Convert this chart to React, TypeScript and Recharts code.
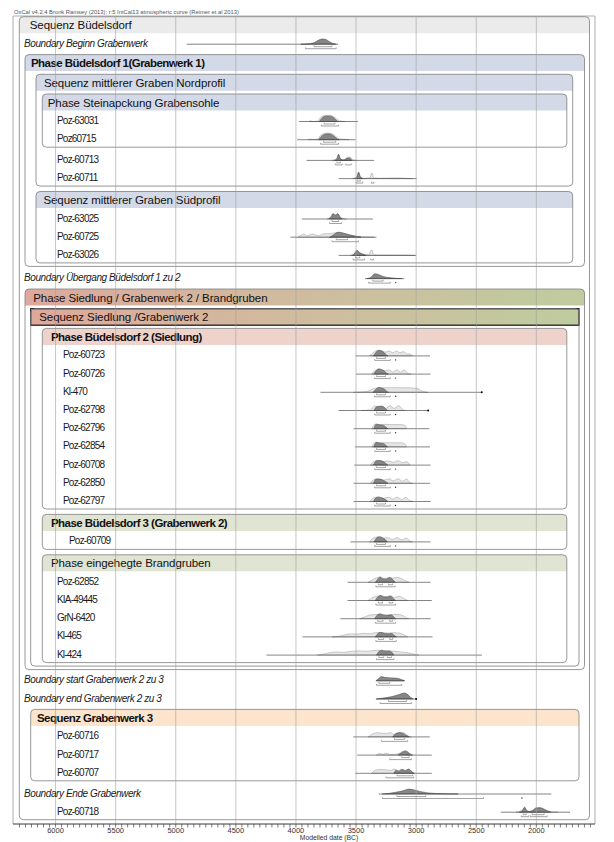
import React from "react";
import {
  ComposedChart,
  XAxis,
  YAxis,
  Area,
  ReferenceLine,
  ReferenceArea,
  ReferenceDot,
} from "recharts";

const NOTE =
  "OxCal v4.2.4 Bronk Ramsey (2013); r:5 IntCal13 atmospheric curve (Reimer et al 2013)";
const AXIS_TITLE = "Modelled date (BC)";
const YEAR_LABELS = [6000, 5500, 5000, 4500, 4000, 3500, 3000, 2500, 2000];
const X_LEFT = 6354;
const X_RIGHT = 1512;
const MINOR_TICKS = Array.from({ length: 96 }, (_, i) => 6300 - i * 50);

// model structure: groups open/close, dates and boundaries in between
const OUTLINE: [string, string][] = [
  ["open", "Sequenz Büdelsdorf"],
  ["boundary", "Boundary Beginn Grabenwerk"],
  ["open", "Phase Büdelsdorf 1(Grabenwerk 1)"],
  ["open", "Sequenz mittlerer Graben Nordprofil"],
  ["open", "Phase Steinapckung Grabensohle"],
  ["date", "Poz-63031"],
  ["date", "Poz60715"],
  ["close", ""],
  ["date", "Poz-60713"],
  ["date", "Poz-60711"],
  ["close", ""],
  ["open", "Sequenz mittlerer Graben Südprofil"],
  ["date", "Poz-63025"],
  ["date", "Poz-60725"],
  ["date", "Poz-63026"],
  ["close", ""],
  ["close", ""],
  ["boundary", "Boundary Übergang Büdelsdorf 1 zu 2"],
  ["open", "Phase Siedlung / Grabenwerk 2 / Brandgruben"],
  ["open", "Sequenz Siedlung /Grabenwerk 2"],
  ["open", "Phase Büdelsdorf 2 (Siedlung)"],
  ["date", "Poz-60723"],
  ["date", "Poz-60726"],
  ["date", "Kl-470"],
  ["date", "Poz-62798"],
  ["date", "Poz-62796"],
  ["date", "Poz-62854"],
  ["date", "Poz-60708"],
  ["date", "Poz-62850"],
  ["date", "Poz-62797"],
  ["close", ""],
  ["open", "Phase Büdelsdorf 3 (Grabenwerk 2)"],
  ["date", "Poz-60709"],
  ["close", ""],
  ["open", "Phase eingehegte Brandgruben"],
  ["date", "Poz-62852"],
  ["date", "KIA-49445"],
  ["date", "GrN-6420"],
  ["date", "Kl-465"],
  ["date", "Kl-424"],
  ["close", ""],
  ["close", ""],
  ["close", ""],
  ["boundary", "Boundary start Grabenwerk 2 zu 3"],
  ["boundary", "Boundary end Grabenwerk 2 zu 3"],
  ["open", "Sequenz Grabenwerk 3"],
  ["date", "Poz-60716"],
  ["date", "Poz-60717"],
  ["date", "Poz-60707"],
  ["close", ""],
  ["boundary", "Boundary Ende Grabenwerk"],
  ["date", "Poz-60718"],
  ["close", ""],
];

// thin line under each distribution, years BC
const SPAN: Record<string, [number, number]> = {
  "Boundary Beginn Grabenwerk": [4910, 3650],
  "Poz-63031": [3976, 3485],
  Poz60715: [3990, 3505],
  "Poz-60713": [3912, 3350],
  "Poz-60711": [3645, 2996],
  "Poz-63025": [3950, 3360],
  "Poz-60725": [4045, 3330],
  "Poz-63026": [3645, 3000],
  "Boundary Übergang Büdelsdorf 1 zu 2": [3425, 3100],
  "Poz-60723": [3505, 2885],
  "Poz-60726": [3500, 2880],
  "Kl-470": [3796, 2454],
  "Poz-62798": [3645, 2900],
  "Poz-62796": [3520, 2890],
  "Poz-62854": [3510, 2885],
  "Poz-60708": [3515, 2880],
  "Poz-62850": [3520, 2885],
  "Poz-62797": [3520, 2880],
  "Poz-60709": [3546, 2880],
  "Poz-62852": [3570, 2880],
  "KIA-49445": [3570, 2870],
  "GrN-6420": [3630, 2880],
  "Kl-465": [3946, 2863],
  "Kl-424": [4245, 2453],
  "Boundary start Grabenwerk 2 zu 3": [3330, 3100],
  "Boundary end Grabenwerk 2 zu 3": [3335, 3000],
  "Poz-60716": [3523, 2887],
  "Poz-60717": [3490, 2870],
  "Poz-60707": [3507, 2870],
  "Boundary Ende Grabenwerk": [3311, 1876],
  "Poz-60718": [2296, 1720],
};

// unmodelled (light) distributions: [year BC, relative height]
const LIKELIHOOD: Record<string, [number, number][]> = {
  "Poz-63031": [[3890, 0], [3878, 0.12], [3866, 0], [3820, 0.06], [3800, 0.5], [3770, 0.82], [3735, 0.9], [3700, 0.82], [3670, 0.5], [3640, 0.12], [3610, 0.03], [3590, 0]],
  Poz60715: [[3900, 0], [3880, 0.08], [3860, 0.03], [3815, 0.1], [3800, 0.55], [3770, 0.85], [3735, 0.95], [3700, 0.85], [3670, 0.5], [3640, 0.12], [3580, 0.05], [3560, 0]],
  "Poz-60713": [[3700, 0], [3662, 0.2], [3647, 0.9], [3632, 0.2], [3595, 0.08], [3575, 0.45], [3548, 0.45], [3525, 0.05], [3490, 0]],
  "Poz-60711": [[3530, 0], [3495, 0.25], [3480, 0.95], [3466, 0.2], [3430, 0.05], [3385, 0.1], [3368, 0.8], [3352, 0.1], [3300, 0.05], [3230, 0.08], [3180, 0.1], [3120, 0.08], [3030, 0]],
  "Poz-63025": [[3740, 0], [3708, 0.4], [3694, 0.8], [3672, 0.6], [3652, 0.8], [3632, 0.3], [3600, 0.03], [3580, 0]],
  "Poz-60725": [[3985, 0], [3955, 0.3], [3935, 0.45], [3905, 0.2], [3885, 0.35], [3860, 0.45], [3835, 0.3], [3810, 0.2], [3780, 0.45], [3740, 0.5], [3700, 0.55], [3640, 0.7], [3580, 0.45], [3500, 0.15], [3420, 0.05], [3350, 0]],
  "Poz-63026": [[3550, 0], [3512, 0.35], [3494, 0.75], [3474, 0.4], [3445, 0.15], [3395, 0.1], [3372, 0.8], [3352, 0.1], [3300, 0.05], [3200, 0.06], [3100, 0.05], [3010, 0]],
  "Poz-60723": [[3385, 0], [3355, 0.5], [3322, 0.8], [3290, 0.75], [3255, 0.55], [3225, 0.72], [3195, 0.45], [3165, 0.7], [3135, 0.45], [3105, 0.62], [3075, 0.25], [3055, 0.3], [3030, 0]],
  "Poz-60726": [[3370, 0], [3340, 0.55], [3310, 0.65], [3270, 0.45], [3225, 0.6], [3195, 0.3], [3160, 0.6], [3130, 0.3], [3100, 0.6], [3070, 0.15], [3040, 0]],
  "Kl-470": [[3520, 0], [3460, 0.05], [3410, 0.12], [3370, 0.4], [3330, 0.62], [3250, 0.65], [3150, 0.66], [3050, 0.64], [2985, 0.5], [2945, 0.12], [2900, 0]],
  "Poz-62798": [[3460, 0], [3380, 0.08], [3345, 0.65], [3315, 0.55], [3290, 0.6], [3255, 0.3], [3215, 0.7], [3185, 0.3], [3145, 0.7], [3110, 0.1], [3090, 0]],
  "Poz-62796": [[3370, 0], [3340, 0.65], [3305, 0.6], [3260, 0.62], [3200, 0.58], [3140, 0.6], [3095, 0.5], [3080, 0]],
  "Poz-62854": [[3370, 0], [3340, 0.65], [3300, 0.6], [3250, 0.6], [3190, 0.58], [3130, 0.6], [3095, 0.45], [3080, 0]],
  "Poz-60708": [[3380, 0], [3345, 0.6], [3310, 0.65], [3270, 0.5], [3230, 0.6], [3190, 0.4], [3150, 0.62], [3110, 0.35], [3080, 0.5], [3050, 0]],
  "Poz-62850": [[3380, 0], [3345, 0.6], [3310, 0.62], [3270, 0.45], [3225, 0.65], [3190, 0.35], [3150, 0.65], [3115, 0.3], [3080, 0.6], [3050, 0.1], [3030, 0]],
  "Poz-62797": [[3385, 0], [3350, 0.55], [3315, 0.65], [3275, 0.45], [3230, 0.6], [3195, 0.35], [3160, 0.62], [3120, 0.3], [3085, 0.58], [3050, 0.12], [3030, 0]],
  "Poz-60709": [[3390, 0], [3355, 0.55], [3320, 0.7], [3280, 0.5], [3235, 0.6], [3200, 0.35], [3160, 0.6], [3120, 0.3], [3080, 0.55], [3050, 0.1], [3030, 0]],
  "Poz-62852": [[3400, 0], [3365, 0.35], [3335, 0.6], [3300, 0.75], [3265, 0.55], [3230, 0.65], [3195, 0.6], [3160, 0.7], [3120, 0.5], [3090, 0.2], [3060, 0]],
  "KIA-49445": [[3400, 0], [3360, 0.45], [3325, 0.6], [3290, 0.7], [3250, 0.55], [3215, 0.65], [3180, 0.45], [3140, 0.6], [3105, 0.3], [3070, 0]],
  "GrN-6420": [[3470, 0], [3420, 0.3], [3380, 0.55], [3335, 0.6], [3290, 0.6], [3245, 0.55], [3200, 0.6], [3150, 0.6], [3110, 0.45], [3080, 0.1], [3060, 0]],
  "Kl-465": [[3700, 0], [3640, 0.1], [3590, 0.3], [3540, 0.45], [3490, 0.4], [3440, 0.5], [3390, 0.45], [3340, 0.6], [3290, 0.62], [3240, 0.55], [3190, 0.6], [3140, 0.55], [3100, 0.3], [3070, 0]],
  "Kl-424": [[3820, 0], [3770, 0.15], [3720, 0.35], [3660, 0.45], [3600, 0.4], [3540, 0.55], [3480, 0.6], [3420, 0.55], [3360, 0.65], [3300, 0.7], [3240, 0.62], [3180, 0.55], [3120, 0.45], [3060, 0.3], [3010, 0.1], [2980, 0]],
  "Poz-60716": [[3400, 0], [3360, 0.45], [3325, 0.6], [3290, 0.55], [3250, 0.5], [3215, 0.6], [3185, 0.35], [3155, 0.6], [3120, 0.65], [3090, 0.45], [3065, 0.12], [3040, 0]],
  "Poz-60717": [[3330, 0], [3300, 0.25], [3280, 0.1], [3250, 0.28], [3215, 0.08], [3170, 0.12], [3135, 0.3], [3105, 0.55], [3085, 0.55], [3055, 0.25], [3025, 0]],
  "Poz-60707": [[3370, 0], [3330, 0.5], [3290, 0.55], [3250, 0.5], [3215, 0.4], [3180, 0.6], [3150, 0.35], [3120, 0.6], [3090, 0.45], [3060, 0.6], [3030, 0.15], [3010, 0]],
  "Poz-60718": [[2170, 0], [2118, 0.3], [2098, 0.75], [2080, 0.3], [2055, 0.1], [2030, 0.3], [2000, 0.62], [1968, 0.65], [1935, 0.45], [1900, 0.15], [1860, 0.04], [1820, 0]],
};

// modelled (dark) distributions
const POSTERIOR: Record<string, [number, number][]> = {
  "Boundary Beginn Grabenwerk": [[3960, 0], [3900, 0.05], [3850, 0.2], [3815, 0.55], [3785, 0.75], [3755, 0.7], [3725, 0.4], [3695, 0.12], [3665, 0]],
  "Poz-63031": [[3805, 0], [3790, 0.35], [3765, 0.72], [3735, 0.8], [3705, 0.72], [3680, 0.45], [3660, 0.1], [3650, 0]],
  Poz60715: [[3810, 0], [3795, 0.35], [3765, 0.75], [3735, 0.85], [3705, 0.75], [3680, 0.45], [3655, 0.1], [3640, 0]],
  "Poz-60713": [[3680, 0], [3660, 0.2], [3645, 0.85], [3630, 0.25], [3605, 0.05], [3575, 0.3], [3555, 0.35], [3535, 0]],
  "Poz-60711": [[3510, 0], [3492, 0.3], [3478, 0.9], [3465, 0.3], [3445, 0]],
  "Poz-63025": [[3725, 0], [3705, 0.35], [3692, 0.75], [3672, 0.55], [3652, 0.75], [3635, 0.3], [3615, 0]],
  "Poz-60725": [[3720, 0], [3690, 0.3], [3650, 0.7], [3610, 0.6], [3560, 0.35], [3500, 0.12], [3460, 0]],
  "Poz-63026": [[3530, 0], [3508, 0.35], [3492, 0.7], [3472, 0.4], [3445, 0.2], [3420, 0]],
  "Boundary Übergang Büdelsdorf 1 zu 2": [[3410, 0], [3375, 0.2], [3345, 0.7], [3315, 0.6], [3275, 0.3], [3225, 0.15], [3175, 0.05], [3120, 0]],
  "Poz-60723": [[3355, 0], [3335, 0.5], [3312, 0.8], [3290, 0.72], [3265, 0.45], [3245, 0.1], [3235, 0]],
  "Poz-60726": [[3352, 0], [3332, 0.5], [3310, 0.75], [3288, 0.65], [3262, 0.4], [3242, 0.08], [3232, 0]],
  "Kl-470": [[3358, 0], [3335, 0.45], [3310, 0.7], [3285, 0.6], [3260, 0.4], [3240, 0.08], [3230, 0]],
  "Poz-62798": [[3350, 0], [3328, 0.55], [3305, 0.6], [3280, 0.6], [3255, 0.3], [3238, 0]],
  "Poz-62796": [[3352, 0], [3332, 0.65], [3305, 0.55], [3275, 0.5], [3250, 0.2], [3236, 0]],
  "Poz-62854": [[3352, 0], [3332, 0.65], [3305, 0.55], [3275, 0.5], [3250, 0.2], [3236, 0]],
  "Poz-60708": [[3355, 0], [3333, 0.6], [3305, 0.65], [3275, 0.5], [3250, 0.2], [3235, 0]],
  "Poz-62850": [[3355, 0], [3333, 0.6], [3305, 0.6], [3275, 0.45], [3250, 0.2], [3235, 0]],
  "Poz-62797": [[3355, 0], [3333, 0.55], [3305, 0.62], [3275, 0.45], [3250, 0.2], [3235, 0]],
  "Poz-60709": [[3350, 0], [3330, 0.55], [3305, 0.75], [3280, 0.6], [3255, 0.3], [3240, 0]],
  "Poz-62852": [[3340, 0], [3320, 0.45], [3300, 0.75], [3280, 0.5], [3250, 0.45], [3220, 0.7], [3195, 0.4], [3175, 0]],
  "KIA-49445": [[3340, 0], [3320, 0.5], [3295, 0.7], [3270, 0.5], [3240, 0.5], [3215, 0.65], [3190, 0.3], [3170, 0]],
  "GrN-6420": [[3345, 0], [3325, 0.5], [3300, 0.7], [3270, 0.5], [3240, 0.45], [3210, 0.55], [3185, 0.25], [3170, 0]],
  "Kl-465": [[3340, 0], [3320, 0.45], [3295, 0.65], [3265, 0.5], [3230, 0.45], [3205, 0.5], [3180, 0.2], [3165, 0]],
  "Kl-424": [[3330, 0], [3310, 0.5], [3290, 0.7], [3260, 0.55], [3230, 0.6], [3205, 0.45], [3185, 0]],
  "Boundary start Grabenwerk 2 zu 3": [[3335, 0], [3310, 0.35], [3290, 0.6], [3265, 0.5], [3230, 0.45], [3180, 0.4], [3140, 0.3], [3110, 0.1], [3095, 0]],
  "Boundary end Grabenwerk 2 zu 3": [[3330, 0], [3270, 0.15], [3200, 0.35], [3140, 0.65], [3100, 0.85], [3075, 0.7], [3050, 0.3], [3025, 0]],
  "Poz-60716": [[3195, 0], [3175, 0.4], [3140, 0.6], [3110, 0.5], [3085, 0.25], [3060, 0]],
  "Poz-60717": [[3150, 0], [3125, 0.3], [3105, 0.5], [3088, 0.6], [3068, 0.4], [3048, 0.1], [3035, 0]],
  "Poz-60707": [[3185, 0], [3165, 0.45], [3145, 0.3], [3115, 0.55], [3090, 0.35], [3065, 0.6], [3040, 0.3], [3020, 0]],
  "Boundary Ende Grabenwerk": [[3280, 0], [3220, 0.1], [3170, 0.25], [3110, 0.45], [3060, 0.7], [3010, 0.55], [2950, 0.3], [2880, 0.12], [2780, 0.04], [2650, 0]],
  "Poz-60718": [[2140, 0], [2115, 0.25], [2098, 0.7], [2082, 0.25], [2060, 0.08], [2030, 0.25], [2000, 0.6], [1970, 0.62], [1940, 0.45], [1905, 0.15], [1880, 0]],
};

const B2_68: [number, number][] = [[3330, 3255]];
const B2_95: [number, number][] = [[3345, 3215]];

// 68.2% ranges
const RANGE68: Record<string, [number, number][]> = {
  "Boundary Beginn Grabenwerk": [[3850, 3700]],
  "Poz-63031": [[3765, 3675]],
  Poz60715: [[3770, 3670]],
  "Poz-60713": [[3660, 3630]],
  "Poz-60711": [[3490, 3465]],
  "Poz-63025": [[3700, 3645]],
  "Poz-60725": [[3665, 3570]],
  "Poz-63026": [[3505, 3470]],
  "Boundary Übergang Büdelsdorf 1 zu 2": [[3360, 3275]],
  "Poz-60723": B2_68, "Poz-60726": B2_68, "Kl-470": B2_68, "Poz-62798": B2_68,
  "Poz-62796": B2_68, "Poz-62854": B2_68, "Poz-60708": B2_68, "Poz-62850": B2_68,
  "Poz-62797": B2_68, "Poz-60709": B2_68,
  "Poz-62852": [[3315, 3280], [3230, 3195]],
  "KIA-49445": [[3315, 3280], [3225, 3195]],
  "GrN-6420": [[3320, 3275], [3220, 3195]],
  "Kl-465": [[3315, 3270], [3220, 3195]],
  "Kl-424": [[3310, 3270], [3240, 3205]],
  "Boundary start Grabenwerk 2 zu 3": [[3310, 3220]],
  "Boundary end Grabenwerk 2 zu 3": [[3230, 3080]],
  "Poz-60716": [[3180, 3095]],
  "Poz-60717": [[3120, 3060]],
  "Poz-60707": [[3160, 3030]],
  "Boundary Ende Grabenwerk": [[3160, 2920]],
  "Poz-60718": [[2110, 2085], [2035, 1935]],
};

// 95.4% ranges
const RANGE95: Record<string, [number, number][]> = {
  "Boundary Beginn Grabenwerk": [[3920, 3665]],
  "Poz-63031": [[3790, 3645]],
  Poz60715: [[3795, 3645]],
  "Poz-60713": [[3672, 3615], [3585, 3540]],
  "Poz-60711": [[3500, 3445], [3372, 3352]],
  "Poz-63025": [[3720, 3620]],
  "Poz-60725": [[3700, 3480]],
  "Poz-63026": [[3525, 3430], [3378, 3355]],
  "Boundary Übergang Büdelsdorf 1 zu 2": [[3395, 3215]],
  "Poz-60723": B2_95, "Poz-60726": B2_95, "Kl-470": B2_95, "Poz-62798": B2_95,
  "Poz-62796": B2_95, "Poz-62854": B2_95, "Poz-60708": B2_95, "Poz-62850": B2_95,
  "Poz-62797": B2_95, "Poz-60709": B2_95,
  "Poz-62852": [[3335, 3175]],
  "KIA-49445": [[3335, 3170]],
  "GrN-6420": [[3340, 3170]],
  "Kl-465": [[3335, 3165]],
  "Kl-424": [[3330, 3185]],
  "Boundary start Grabenwerk 2 zu 3": [[3330, 3120]],
  "Boundary end Grabenwerk 2 zu 3": [[3300, 3040]],
  "Poz-60716": [[3290, 3070]],
  "Poz-60717": [[3220, 3040]],
  "Poz-60707": [[3250, 3020]],
  "Boundary Ende Grabenwerk": [[3280, 2440]],
  "Poz-60718": [[2125, 2065], [2050, 1910]],
};

// small markers under some rows and dots at the end of lines
const MARKS: Record<string, number> = {
  "Boundary Übergang Büdelsdorf 1 zu 2": 3170,
  "Poz-60723": 3171, "Poz-60726": 3171, "Kl-470": 3171, "Poz-62798": 3171,
  "Poz-62796": 3171, "Poz-62854": 3171, "Poz-60708": 3171, "Poz-62850": 3171,
  "Poz-62797": 3171, "Poz-60709": 3171,
  "Boundary Ende Grabenwerk": 2120,
};
const END_DOTS: Record<string, number> = {
  "Kl-470": 2454,
  "Poz-62798": 2900,
  "Boundary end Grabenwerk 2 zu 3": 3000,
};

const GRADIENT = "gradient";
const BOX_STYLE: Record<string, { level: number; band: string; bold?: boolean; pad: number; itemX: number; outlined?: boolean }> = {
  "Sequenz Büdelsdorf": { level: 0, band: "#ebebeb", pad: 10.5, itemX: 44 },
  "Phase Büdelsdorf 1(Grabenwerk 1)": { level: 1, band: "#d3d9e7", bold: true, pad: 6, itemX: 44 },
  "Sequenz mittlerer Graben Nordprofil": { level: 3, band: "#d3d9e7", pad: 8, itemX: 44 },
  "Phase Steinapckung Grabensohle": { level: 4, band: "#d3d9e7", pad: 5.5, itemX: 44 },
  "Sequenz mittlerer Graben Südprofil": { level: 3, band: "#d3d9e7", pad: 7.5, itemX: 44 },
  "Phase Siedlung / Grabenwerk 2 / Brandgruben": { level: 1, band: GRADIENT, pad: 8.3, itemX: 44 },
  "Sequenz Siedlung /Grabenwerk 2": { level: 2, band: GRADIENT, pad: 8.6, itemX: 44, outlined: true },
  "Phase Büdelsdorf 2 (Siedlung)": { level: 4, band: "#eed3cd", bold: true, pad: 8.7, itemX: 50 },
  "Phase Büdelsdorf 3 (Grabenwerk 2)": { level: 4, band: "#e0e4d3", bold: true, pad: 8.7, itemX: 56 },
  "Phase eingehegte Brandgruben": { level: 4, band: "#e0e4d3", pad: 8.7, itemX: 44 },
  "Sequenz Grabenwerk 3": { level: 2, band: "#fde4cd", bold: true, pad: 6.3, itemX: 44 },
};

const FONT = "'Liberation Sans', Arial, Helvetica, sans-serif";
const LINE_STEP = 18.2;
const OPEN_GAP = 1.5;
const CLOSE_GAP = 2.5;
const PEAK = 7;
const BAND = 16.5;
const LEFT_INSET = [6.3, 12, 17.7, 23, 29.3];
const RIGHT_INSET = [5.5, 10.5, 16, 22.3, 28.2];

type Box = { name: string; top: number; bottom: number };
type Row = { name: string; kind: string; y: number; labelX: number };

function buildLayout() {
  const boxes: Box[] = [];
  const rows: Row[] = [];
  const stack: Box[] = [];
  let cursor = 25 - LINE_STEP - OPEN_GAP;
  let gap = 0;
  let closeRun = 0;
  for (const [kind, name] of OUTLINE) {
    if (kind === "close") {
      const box = stack.pop();
      if (box) box.bottom = cursor + 8.5 + 3.5 * closeRun;
      closeRun++;
      gap += CLOSE_GAP;
      continue;
    }
    closeRun = 0;
    if (kind === "open") {
      cursor += gap + OPEN_GAP + LINE_STEP;
      const box = { name, top: cursor - 8.3, bottom: cursor + 10 };
      stack.push(box);
      boxes.push(box);
    } else {
      cursor += gap + LINE_STEP;
      const parent = stack[stack.length - 1];
      const labelX = kind === "boundary" ? 11 : BOX_STYLE[parent.name].itemX;
      rows.push({ name, kind, y: cursor, labelX });
    }
    gap = 0;
  }
  return { boxes, rows };
}

const GroupBox = (props: any) => {
  const { x, y, width, height, box } = props;
  const st = BOX_STYLE[box.name];
  const l = x + LEFT_INSET[st.level];
  const r = x + width - RIGHT_INSET[st.level];
  const t = y;
  const rad = 4;
  const gid = "grad-" + st.level;
  const fill = st.band === GRADIENT ? `url(#${gid})` : st.band;
  return (
    <g>
      {st.band === GRADIENT && (
        <defs>
          <linearGradient id={gid} x1="0" x2="1" y1="0" y2="0">
            <stop offset="0" stopColor="#dea89c" />
            <stop offset="0.5" stopColor="#cfbc9f" />
            <stop offset="1" stopColor="#bfcc9e" />
          </linearGradient>
        </defs>
      )}
      <path
        d={`M${l},${t + BAND}V${t + rad}Q${l},${t} ${l + rad},${t}H${r - rad}Q${r},${t} ${r},${t + rad}V${t + BAND}Z`}
        fill={fill}
      />
      {st.outlined && (
        <rect x={l} y={t} width={r - l} height={BAND} fill="none" stroke="#111" strokeWidth={1.2} />
      )}
      <rect x={l} y={t} width={r - l} height={height} rx={rad} fill="none" stroke="#7d7d7d" strokeWidth={0.8} />
      <text
        x={l + st.pad}
        y={t + 8.6}
        dominantBaseline="central"
        fontFamily={FONT}
        fontSize={11.5}
        fontWeight={st.bold ? "bold" : "normal"}
        letterSpacing={st.bold ? -0.55 : -0.1}
        fill="#111"
      >
        {box.name}
      </text>
    </g>
  );
};

const Bracket = (props: any) => {
  const { x1, y1, x2, y2 } = props;
  return (
    <path
      d={`M${x1},${y1 - 1.3}V${y1}H${x2}V${y2 - 1.3}`}
      fill="none"
      stroke="#666"
      strokeWidth={0.6}
    />
  );
};

const AxisTitle = (props: any) => {
  const vb = props.viewBox ?? { x: 13, y: 824, width: 582, height: 18 };
  return (
    <text x={vb.x + 316} y={vb.y + 16.4} textAnchor="middle" fontFamily={FONT} fontSize={6.8} fill="#333">
      {AXIS_TITLE}
    </text>
  );
};

const bandData = (points: [number, number][], base: number) =>
  points.map(([year, h]) => ({ year, band: [base, base - h * PEAK] }));

export default function App() {
  const { boxes, rows } = buildLayout();

  return (
    <div style={{ position: "relative", width: 614, height: 842, background: "#fff" }}>
      <style>{"body{margin:0}"}</style>
      <div
        style={{
          position: "absolute",
          left: 14,
          top: 9,
          fontFamily: FONT,
          fontSize: 5.8,
          color: "#555",
          whiteSpace: "nowrap",
          lineHeight: "7px",
        }}
      >
        {NOTE}
      </div>
      <ComposedChart width={614} height={842} margin={{ top: 16, right: 19, bottom: 0, left: 13 }}>
        <XAxis
          type="number"
          dataKey="year"
          domain={[X_RIGHT, X_LEFT]}
          reversed
          allowDataOverflow
          ticks={MINOR_TICKS}
          interval={0}
          tickFormatter={(v: number) => (YEAR_LABELS.includes(v) ? String(v) : "")}
          tick={{ fontSize: 7.5, fill: "#333", fontFamily: FONT }}
          tickSize={3.5}
          tickMargin={0}
          height={18}
          axisLine={{ stroke: "#444", strokeWidth: 0.8 }}
          tickLine={{ stroke: "#444", strokeWidth: 0.7 }}
          label={<AxisTitle />}
        />
        <YAxis type="number" domain={[16, 824]} reversed hide allowDataOverflow />

        <ReferenceArea
          x1={X_LEFT}
          x2={X_RIGHT}
          y1={16}
          y2={824}
          ifOverflow="visible"
          fill="none"
          stroke="#9a9a9a"
          strokeWidth={0.8}
        />

        {boxes.map((box) => (
          <ReferenceArea
            key={"box-" + box.name}
            x1={X_LEFT}
            x2={X_RIGHT}
            y1={box.top}
            y2={box.bottom}
            ifOverflow="visible"
            shape={(p: any) => <GroupBox {...p} box={box} />}
          />
        ))}

        {rows.map((row) =>
          LIKELIHOOD[row.name] ? (
            <Area
              key={"like-" + row.name}
              data={bandData(LIKELIHOOD[row.name], row.y + 1)}
              dataKey="band"
              type="monotone"
              fill="#e6e6e6"
              fillOpacity={1}
              stroke="#9a9a9a"
              strokeWidth={0.5}
              dot={false}
              activeDot={false}
              isAnimationActive={false}
            />
          ) : null
        )}
        {rows.map((row) => (
          <Area
            key={"post-" + row.name}
            data={bandData(POSTERIOR[row.name], row.y + 1)}
            dataKey="band"
            type="monotone"
            fill="#868686"
            fillOpacity={1}
            stroke="#444"
            strokeWidth={0.5}
            dot={false}
            activeDot={false}
            isAnimationActive={false}
          />
        ))}

        {rows.map((row) => (
          <ReferenceLine
            key={"span-" + row.name}
            segment={[
              { x: SPAN[row.name][0], y: row.y + 1 },
              { x: SPAN[row.name][1], y: row.y + 1 },
            ]}
            stroke="#333"
            strokeWidth={0.6}
            ifOverflow="visible"
          />
        ))}

        {rows.flatMap((row) => [
          ...(RANGE68[row.name] ?? []).map(([a, b], i) => (
            <ReferenceLine
              key={`r68-${row.name}-${i}`}
              segment={[{ x: a, y: row.y + 3.5 }, { x: b, y: row.y + 3.5 }]}
              ifOverflow="visible"
              shape={Bracket}
            />
          )),
          ...(RANGE95[row.name] ?? []).map(([a, b], i) => (
            <ReferenceLine
              key={`r95-${row.name}-${i}`}
              segment={[{ x: a, y: row.y + 5.5 }, { x: b, y: row.y + 5.5 }]}
              ifOverflow="visible"
              shape={Bracket}
            />
          )),
        ])}

        {rows
          .filter((row) => MARKS[row.name] !== undefined)
          .map((row) => (
            <ReferenceDot
              key={"mark-" + row.name}
              x={MARKS[row.name]}
              y={row.y + 5}
              r={0.7}
              fill="#333"
              stroke="none"
              ifOverflow="visible"
            />
          ))}
        {rows
          .filter((row) => END_DOTS[row.name] !== undefined)
          .map((row) => (
            <ReferenceDot
              key={"end-" + row.name}
              x={END_DOTS[row.name]}
              y={row.y + 1}
              r={1}
              fill="#000"
              stroke="none"
              ifOverflow="visible"
            />
          ))}

        {rows.map((row) => (
          <ReferenceDot
            key={"label-" + row.name}
            x={X_LEFT}
            y={row.y}
            ifOverflow="visible"
            shape={(p: any) => (
              <text
                x={p.cx + row.labelX}
                y={p.cy}
                dominantBaseline="central"
                fontFamily={FONT}
                fontSize={10}
                fontStyle={row.kind === "boundary" ? "italic" : "normal"}
                letterSpacing={row.kind === "boundary" ? -0.4 : -0.8}
                fill="#1a1a1a"
              >
                {row.name}
              </text>
            )}
          />
        ))}

        {YEAR_LABELS.map((v) => (
          <ReferenceLine key={"grid-" + v} x={v} stroke="#a0a0a0" strokeWidth={0.6} ifOverflow="visible" />
        ))}
      </ComposedChart>
    </div>
  );
}
